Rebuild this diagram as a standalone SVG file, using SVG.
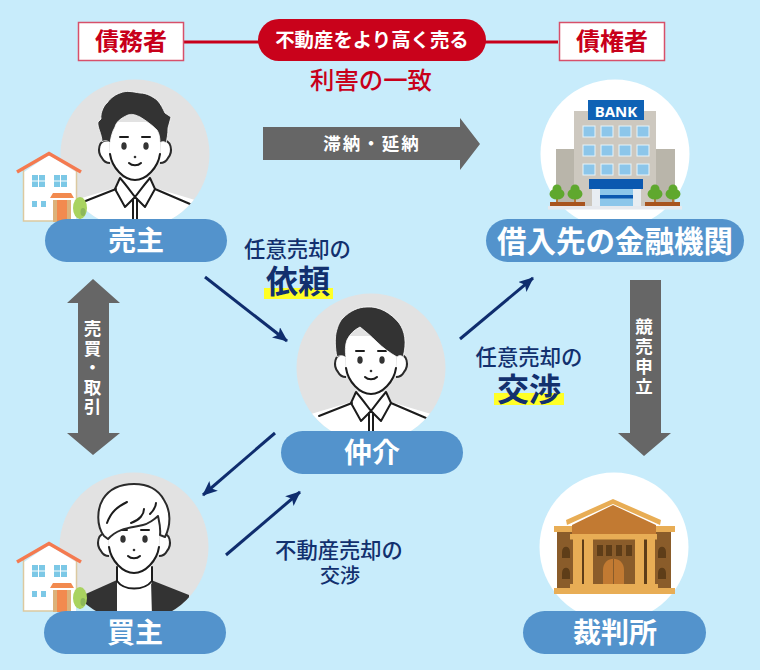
<svg xmlns="http://www.w3.org/2000/svg" width="760" height="670" viewBox="0 0 760 670">
<style>
text{font-family:"Noto Sans CJK JP","Noto Sans",sans-serif;text-anchor:middle}
.pill{fill:#5393cc}
.nl{fill:#fff;font-weight:700;font-size:28px}
.box{fill:#fff;stroke:#d7506a;stroke-width:1.5}
.bt{fill:#c8001a;font-weight:700;font-size:24px}
.navy{fill:#12306e}
.lab{font-size:21.400px;font-weight:500}
.big{font-size:32px;font-weight:700}
.y{fill:#ffff26}
.ga{fill:#666}
.gt{fill:#fff;font-weight:700;font-size:17.500px}
.ln{fill:none;stroke:#1c1c1c;stroke-width:2;stroke-linejoin:round;stroke-linecap:round}
.sk{fill:#fff;stroke:#2b2b2b;stroke-width:2;stroke-linejoin:round}
.hair{fill:#333;stroke:#fff;stroke-width:.8}
.cn{stroke:#0f2d6e;stroke-width:3;fill:none;marker-end:url(#ah)}
.win{fill:#8cc6ea;stroke:#e6f3fa;stroke-width:1}
.hw{fill:#7cc8e6}
.ct1{fill:#e8ad55}.ct2{fill:#c27a32}.ct3{fill:#8a5c2a}.ct4{fill:#5e3d18}
</style>
<defs>
<marker id="ah" markerUnits="userSpaceOnUse" markerWidth="16" markerHeight="14" refX="14" refY="6.500" orient="auto"><path d="M0 0L15 6.500L0 13L3.500 6.500Z" fill="#0f2d6e"/></marker>
<clipPath id="cc"><circle r="74.500"/></clipPath>
<g id="face">
<path class="sk" d="M-26-13C-37-16-38-2-33 4-31 8-28 9-25 9M26-13C37-16 38-2 33 4 31 8 28 9 25 9"/>
<path fill="#fff" d="M-25-32V-5C-25 13-11 26 0 26 11 26 25 13 25-5V-32Z"/>
<path class="ln" d="M-25 0C-23 14-11 26 0 26 11 26 23 14 25 0"/>
<ellipse cx="-11" cy="-8" rx="2.700" ry="3.800" fill="#333"/><ellipse cx="11" cy="-8" rx="2.700" ry="3.800" fill="#333"/>
<path class="ln" d="M-15-17H-7M7-17H15"/>
<circle cy="3" r="1.300" fill="#333"/>
<path class="ln" d="M-6 9C-3 12 3 12 6 9"/>
</g>
<g id="shirt">
<path d="M-80 52L-20 34-14 24H14L20 34 80 52V80H-80Z" fill="#fff"/>
<path class="ln" d="M-52 48L-19 35M55 50L20 35"/>
<path class="ln" d="M-15 24L-20 35-10 53 0 43 10 53 20 35 15 24M-15 24C-8 32-4 38 0 43 4 38 8 32 15 24"/>
<path class="ln" d="M-2 45V70M2 45V70"/>
</g>
<g id="man1"><circle r="74.500" fill="#e2e2e2"/><g clip-path="url(#cc)"><use href="#shirt"/>
<use href="#face"/>
<path class="hair" d="M-33-12C-33-20-38-27-37-32L-34-35C-35-42-30-50-28-51-24-57-18-60-15-61-8-64-2-62 5-61 12-61 18-57 22-54 26-50 28-45 30-41L36-37 33-26C33-20 32-15 31-11 29-13 27-13 25-11 25-17 24-21 22-24 16-30 10-34 5-37-1-40-4-40-7-39-14-36-19-32-20-27-23-22-24-17-25-11-28-14-31-14-33-12Z"/>
</g></g>
<g id="man2"><circle r="74.500" fill="#e2e2e2"/><g clip-path="url(#cc)"><use href="#shirt"/>
<use href="#face"/>
<path class="hair" d="M-34-11C-36-20-36-29-35-35-33-43-31-47-28-50-21-57-13-61-4-61 8-62 20-55 28-45 34-37 36-25 32-11 30-13 28-13 26-11 19-15 12-20 6-26 0-32-6-37-11-41-17-38-21-34-24-28-26-23-26-16-25-10-28-13-31-13-34-11Z"/>
</g></g>
<g id="woman"><circle r="74.500" fill="#e2e2e2"/><g clip-path="url(#cc)">
<path d="M-55 50L-17 33H17L55 48V80H-55Z" fill="#333"/>
<path d="M-17 33C-12 40 12 40 17 33L18 70H-17Z" fill="#fff"/>
<path d="M-17 18V36C-10 44 10 44 18 36V18Z" fill="#fff"/>
<path class="ln" d="M-17 20V34C-10 44 10 44 18 34V20"/>
<use href="#face"/>
<path class="sk" d="M-30-11C-38-22-37-38-31-48-24-59-12-63 0-63 13-63 24-58 30-47 37-36 37-22 31-10L26-12C27-19 25-26 24-31 21-28 14-23 9-22-2-19-15-20-26-8Z"/>
<path class="ln" d="M-27-24C-23-35-17-40-7-45M-3-24C6-27 10-33 10-38M16-33C20-37 22-40 22-44"/>
</g></g>
<g id="house">
<path d="M24 172L49 155 76 172V221H24Z" fill="#fff"/>
<path d="M23.500 170V221H54M76.500 170V200" fill="none" stroke="#dcc9a0" stroke-width="1.500"/>
<path d="M17 172L49 153.500 81 172" fill="none" stroke="#f47a50" stroke-width="3.500"/>
<path class="hw" d="M32 175H38V180.500H32ZM39 175H45V180.500H39ZM32 181.500H38V187H32ZM39 181.500H45V187H39ZM54 175H60V180.500H54ZM61 175H67V180.500H61ZM54 181.500H60V187H54ZM61 181.500H67V187H61ZM32 201H37V207H32ZM41 201H46V207H41Z"/>
<path d="M53 200H71V222H53Z" fill="#dcb27a"/>
<path d="M57 200H67V222H57Z" fill="#f28a4f"/>
<path d="M53 193H71L74 198H50Z" fill="#f28a4f"/>
<path d="M80 219V212" stroke="#9a8a5a" stroke-width="1"/>
<ellipse cx="80" cy="208" rx="7" ry="11" fill="#a9d35f"/>
<ellipse cx="83" cy="212" rx="2.500" ry="4" fill="#8cb85a"/>
</g>
<g id="tree"><rect x="-1" y="4" width="2" height="8" fill="#b5773a"/><circle cy="-3" r="4.500" fill="#5fa82e"/><ellipse cy="2" rx="7.500" ry="5.500" fill="#5fa82e"/></g>
</defs>
<rect width="760" height="670" fill="#c8ecfb"/>

<g id="connectors">
<path d="M184 42H558" stroke="#c8001a" stroke-width="3" fill="none"/>
<path class="ga" d="M263 127H460V118L480 144 460 170V160H263Z"/>
<path class="ga" d="M93 279L120 303H109V433H120L93 455 67 433H78V303H67Z"/>
<path class="ga" d="M630 280H661V433H671L644 456 618 433H630Z"/>
<path class="cn" d="M205 277L287 341"/>
<path class="cn" d="M460 339L533 278"/>
<path class="cn" d="M275 433L203 495"/>
<path class="cn" d="M226 555L300 492"/>
</g>

<g id="debtor"><rect class="box" x="78.500" y="22.500" width="105" height="38"/><text class="bt" x="131" y="50">債務者</text></g>
<g id="creditor"><rect class="box" x="559.500" y="22.500" width="105" height="38"/><text class="bt" x="612" y="50">債権者</text></g>
<g id="common-goal"><rect x="258" y="19" width="228" height="42" rx="21" fill="#c9021b"/><text x="372" y="47" fill="#fff" font-weight="700" font-size="19.400px">不動産をより高く売る</text></g>
<text x="371" y="89" fill="#c8001a" font-size="24.400px" font-weight="500">利害の一致</text>

<text class="gt" x="372" y="150" letter-spacing="2">滞納・延納</text>
<text class="gt" x="92.500" y="320" style="writing-mode:vertical-rl;text-anchor:start" letter-spacing="2">売買・取引</text>
<text class="gt" x="644" y="318" style="writing-mode:vertical-rl;text-anchor:start" letter-spacing="2.500">競売申立</text>

<g id="seller"><use href="#man1" x="135" y="154"/><use href="#house"/><rect class="pill" x="45" y="219" width="182" height="43" rx="21.500"/><text class="nl" x="136" y="251">売主</text></g>

<g id="bank">
<circle cx="615" cy="154" r="74.500" fill="#fff"/>
<rect x="556" y="149" width="19" height="58" fill="#b9b5aa"/><rect x="656" y="149" width="19" height="58" fill="#b9b5aa"/>
<rect x="574" y="111" width="82" height="96" fill="#cdc8bf"/>
<rect x="588" y="100" width="56" height="20" fill="#0f62b5"/>
<text x="616" y="116.500" fill="#fff" font-weight="700" font-size="15px" style="font-family:'Noto Sans',sans-serif">BANK</text>
<g class="win">
<rect x="583" y="126" width="12" height="11"/><rect x="601" y="126" width="12" height="11"/><rect x="619" y="126" width="12" height="11"/><rect x="637" y="126" width="12" height="11"/>
<rect x="583" y="145" width="12" height="11"/><rect x="601" y="145" width="12" height="11"/><rect x="619" y="145" width="12" height="11"/><rect x="637" y="145" width="12" height="11"/>
<rect x="583" y="164" width="12" height="11"/><rect x="601" y="164" width="12" height="11"/><rect x="619" y="164" width="12" height="11"/><rect x="637" y="164" width="12" height="11"/>
</g>
<rect x="592" y="189" width="49" height="17" fill="#e8edf2"/>
<rect x="600" y="189" width="33" height="17" fill="#8cc6ea"/>
<rect x="600" y="195" width="33" height="3.500" fill="#0a58b0"/>
<rect x="589" y="179" width="54" height="10" fill="#0a58b0"/>
<rect x="548" y="206" width="134" height="3.500" fill="#e6e9ee"/>
<use href="#tree" x="557" y="192"/><use href="#tree" x="575" y="192"/><use href="#tree" x="655" y="192"/><use href="#tree" x="673" y="192"/>
<rect x="550" y="202" width="35" height="4" fill="#a8541e"/><rect x="645" y="202" width="35" height="4" fill="#a8541e"/>
<rect class="pill" x="486" y="219" width="258" height="43" rx="21.500"/><text class="nl" x="615" y="252" style="font-size:29.500px">借入先の金融機関</text></g>

<g id="agent"><use href="#man2" x="371" y="368"/><rect class="pill" x="281" y="431" width="182" height="43" rx="21.500"/><text class="nl" x="372" y="463">仲介</text></g>

<g id="buyer"><use href="#woman" x="134" y="547"/><use href="#house" y="390"/><rect class="pill" x="44" y="611" width="182" height="43" rx="21.500"/><text class="nl" x="135" y="643">買主</text></g>

<g id="court">
<circle cx="614" cy="547" r="74.500" fill="#fff"/>
<rect class="ct3" x="557" y="530" width="114" height="58"/>
<path class="ct1" d="M554 526H572V532H554ZM656 526H675V532H656Z"/>
<path class="ct4" d="M562 558V552C562 545 570 545 570 552V558ZM562 579V573C562 566 570 566 570 573V579ZM658 558V552C658 545 666 545 666 552V558ZM658 579V573C658 566 666 566 666 573V579Z"/>
<rect class="ct4" x="582" y="539" width="3" height="46"/><rect class="ct4" x="644" y="539" width="3" height="46"/>
<path class="ct1" d="M573 539H582V585H573ZM584 539H593V585H584ZM635 539H644V585H635ZM647 539H655V585H647Z"/>
<path class="ct4" d="M597 545H603V556H597ZM606 545H612V556H606ZM616 545H622V556H616ZM626 545H632V556H626Z"/>
<path class="ct2" d="M603 584V570C603 555 624 555 624 570V584Z"/>
<path d="M613.500 559V584" stroke="#8a5c2a" stroke-width="1"/>
<rect class="ct1" x="570" y="534" width="87" height="5.500"/>
<path class="ct2" d="M572 525L613 505 656 525V534H572Z"/>
<path class="ct1" d="M566 520L613 499 661 520 660 525 613 504 567 525Z"/>
<rect class="ct1" x="570" y="584" width="88" height="5"/>
<rect class="ct1" x="554" y="588" width="121" height="6"/>
<rect class="pill" x="523" y="611" width="183" height="43" rx="21.500"/><text class="nl" x="615" y="643">裁判所</text></g>

<g id="label-irai"><rect class="y" x="264" y="288" width="69" height="11"/><text class="navy lab" x="297.500" y="257">任意売却の</text><text class="navy big" x="298" y="293">依頼</text></g>
<g id="label-kosho"><rect class="y" x="494" y="393" width="70" height="12"/><text class="navy lab" x="529" y="365">任意売却の</text><text class="navy big" x="529" y="401">交渉</text></g>
<g id="label-fudosan"><text class="navy" x="339" y="558" font-size="21.300px" font-weight="500">不動産売却の</text><text class="navy" x="340" y="583" font-size="20px" font-weight="500">交渉</text></g>
</svg>
